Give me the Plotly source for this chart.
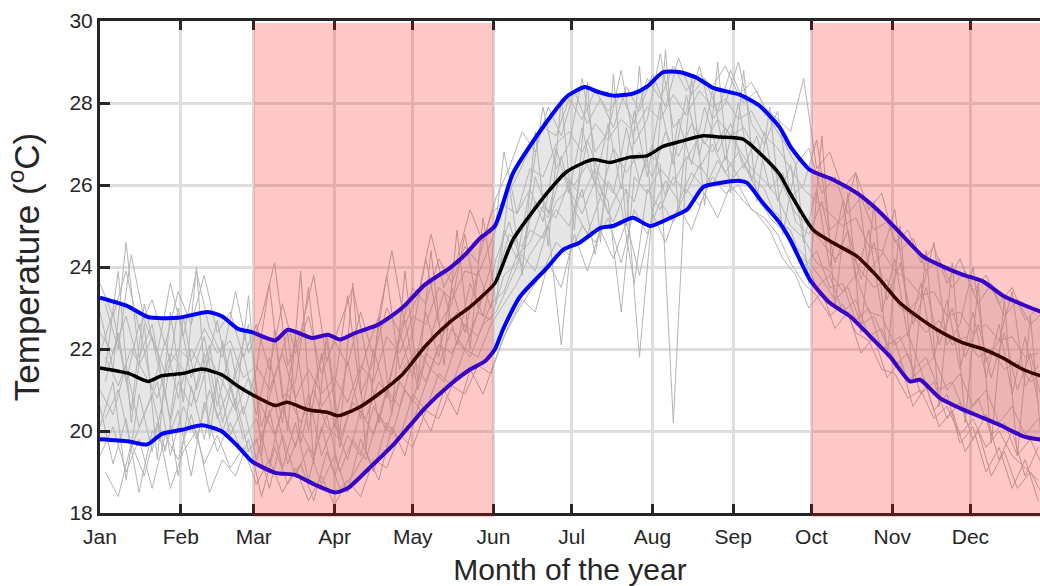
import plotly.graph_objects as go

# ---------------- data ----------------
month_labels = ["Jan", "Feb", "Mar", "Apr", "May", "Jun", "Jul", "Aug", "Sep", "Oct", "Nov", "Dec"]
month_start_days = [1, 32, 60, 91, 121, 152, 182, 213, 244, 274, 305, 335]
y_ticks = [18, 20, 22, 24, 26, 28, 30]

# shaded seasons (day of year)
season1 = [60, 152]
season2 = [274, 366]

# mean curve
mean_days = [1, 11.7, 19.4, 24.8, 32.5, 40.1, 47.8, 54, 59.3, 68.2, 72.8, 80.8, 88.5, 92.3, 100,
             107.7, 116.9, 125.7, 135.3, 143, 146.8, 152.5, 159.5, 172.5, 180.2, 190.2, 196.7, 204.4,
             210.9, 217, 223.6, 232.4, 238.9, 247.7, 255.4, 261.9, 265.8, 274.6, 282.3, 291.5, 299.2,
             308, 314.5, 322.2, 332.2, 339.8, 347.5, 355.2, 361.7, 365]
mean_vals = [21.54, 21.41, 21.21, 21.35, 21.40, 21.51, 21.37, 21.09, 20.89, 20.62, 20.70, 20.52, 20.45,
             20.37, 20.56, 20.89, 21.37, 22.06, 22.66, 23.03, 23.24, 23.60, 24.67, 25.80, 26.33, 26.62,
             26.55, 26.68, 26.71, 26.94, 27.06, 27.20, 27.17, 27.12, 26.70, 26.25, 25.80, 24.91, 24.59,
             24.26, 23.77, 23.12, 22.80, 22.47, 22.15, 22.00, 21.78, 21.50, 21.35, 21.30]

# upper envelope
upper_days = [1, 11.7, 19.4, 30.9, 42.4, 47.8, 54, 59.3, 68.2, 73.1, 82.4, 88.5, 93.1, 98.9, 107.7,
              116.9, 125.7, 135.3, 141.1, 146.8, 152.5, 159.5, 172.5, 180.2, 187.1, 191.7, 197.9, 205.5,
              210.9, 217, 223.6, 230.1, 236.2, 246.6, 254.3, 261.9, 265.8, 273.4, 282.3, 291.5, 299.2,
              308, 316.8, 324.5, 332.2, 339.8, 347.5, 355.2, 361.7, 365]
upper_vals = [23.25, 23.04, 22.78, 22.76, 22.90, 22.80, 22.49, 22.41, 22.21, 22.47, 22.27, 22.35, 22.23,
              22.39, 22.59, 23.00, 23.57, 23.98, 24.30, 24.70, 25.00, 26.29, 27.55, 28.16, 28.39, 28.28,
              28.18, 28.23, 28.40, 28.75, 28.75, 28.61, 28.37, 28.20, 27.92, 27.40, 26.95, 26.37, 26.13,
              25.80, 25.40, 24.83, 24.26, 24.01, 23.81, 23.65, 23.30, 23.08, 22.92, 22.85]

# lower envelope
lower_days = [1, 11.7, 19, 24.8, 32.5, 40.1, 47.8, 54, 59.3, 68.2, 75.8, 83.5, 91.2, 96.2, 103.8,
              114.2, 125.7, 135.3, 143, 148.7, 152.6, 155.6, 162.2, 172.5, 178.7, 185.2, 192.9, 197.9,
              205.5, 212.1, 220.9, 226.3, 232.4, 238.9, 246.6, 249.3, 255.4, 261.9, 265.8, 273.4, 281.1,
              288.8, 296.5, 304.1, 311.8, 315.7, 323.3, 332.2, 339.8, 347.5, 355.2, 361.7, 365]
lower_vals = [19.80, 19.75, 19.67, 19.93, 20.03, 20.14, 19.99, 19.62, 19.26, 18.98, 18.93, 18.69, 18.50,
              18.61, 19.06, 19.71, 20.56, 21.13, 21.50, 21.70, 22.00, 22.47, 23.28, 23.98, 24.42, 24.60,
              24.95, 25.00, 25.20, 25.00, 25.23, 25.40, 25.95, 26.05, 26.10, 26.05, 25.56, 25.07, 24.67,
              23.69, 23.12, 22.80, 22.31, 21.82, 21.21, 21.25, 20.80, 20.52, 20.32, 20.11, 19.87, 19.79,
              19.75]

# individual years (sampled every 5 days, two interleaved sampling grids)
year_days = list(range(1, 366, 5))
year_days_b = list(range(3, 366, 5))
year_a = [23.6, 22.8, 23.9, 22.5, 23.2, 22.1, 23.4, 22.6, 23.8, 22.4,
          22.9, 21.8, 22.6, 21.5, 23.1, 21.9, 22.8, 21.4, 22.2, 21.6,
          22.9, 21.8, 23.0, 22.4, 23.5, 23.1, 24.2, 23.6, 24.5, 24.1,
          25.3, 25.6, 26.2, 26.9, 27.4, 27.2, 28.1, 27.6, 28.3, 27.8,
          28.2, 27.5, 28.6, 28.1, 28.9, 28.3, 28.7, 28.4, 28.9, 28.2,
          28.5, 27.9, 27.6, 27.3, 28.6, 26.4, 26.8, 25.9, 26.3, 25.4,
          25.8, 24.6, 24.9, 24.1, 24.5, 23.6, 24.2, 23.4, 23.8, 23.1,
          23.5, 22.7, 23.0]
year_b = [19.4, 20.1, 19.0, 19.8, 18.6, 19.9, 19.3, 20.4, 19.2, 19.9,
          19.1, 19.6, 18.7, 19.3, 18.5, 19.1, 18.3, 18.9, 18.2, 18.8,
          18.4, 19.3, 19.1, 19.9, 19.6, 20.5, 20.3, 21.1, 20.9, 21.6,
          21.4, 22.3, 22.9, 23.4, 23.9, 24.6, 24.3, 25.0, 24.6, 25.2,
          24.1, 25.4, 24.8, 25.6, 25.1, 25.9, 25.5, 26.2, 25.8, 26.0,
          25.4, 25.2, 24.8, 24.1, 23.6, 23.3, 22.8, 23.1, 22.4, 22.2,
          21.5, 21.4, 20.8, 21.0, 20.3, 20.6, 19.9, 20.3, 19.6, 20.0,
          19.4, 19.1, 18.8]
year_c = [21.9, 22.9, 21.2, 22.6, 21.0, 22.2, 20.8, 22.0, 21.4, 22.7,
          21.0, 21.9, 20.4, 21.8, 20.2, 22.3, 20.0, 21.9, 20.1, 21.7,
          20.3, 22.0, 20.8, 22.4, 21.3, 22.9, 21.8, 23.5, 22.4, 23.9,
          23.0, 24.9, 24.2, 25.9, 25.1, 26.9, 25.8, 27.4, 26.0, 27.5,
          25.9, 27.8, 26.2, 28.0, 26.5, 28.2, 26.7, 28.3, 26.6, 28.0,
          26.1, 27.3, 25.6, 26.5, 24.6, 25.9, 24.0, 25.6, 23.7, 24.9,
          22.9, 24.2, 22.3, 23.6, 21.8, 23.2, 21.5, 22.9, 21.3, 22.6,
          20.9, 22.3, 20.7]
year_d = [21.0, 20.4, 21.6, 20.1, 20.9, 19.5, 21.2, 20.6, 21.9, 20.3,
          21.1, 19.8, 20.3, 19.2, 20.6, 19.6, 20.9, 19.4, 20.2, 19.3,
          20.5, 19.9, 21.0, 20.6, 21.8, 21.2, 22.1, 21.9, 22.6, 22.3,
          23.1, 23.4, 24.3, 24.6, 25.5, 25.2, 26.1, 25.7, 26.4, 25.3,
          26.0, 25.6, 26.8, 26.5, 20.2, 26.6, 27.2, 26.8, 27.4, 26.9,
          26.4, 26.1, 25.7, 25.0, 24.7, 24.1, 23.9, 23.4, 23.8, 22.9,
          22.8, 22.1, 22.4, 21.5, 21.8, 21.0, 21.4, 20.6, 21.0, 20.2,
          20.6, 19.9, 20.3]
year_e = [22.4, 21.9, 22.8, 21.6, 22.3, 21.4, 22.0, 21.7, 22.5, 21.9,
          22.2, 21.3, 21.6, 21.0, 21.9, 20.8, 21.5, 20.9, 21.3, 20.7,
          21.6, 21.2, 22.3, 21.9, 22.8, 22.6, 23.5, 23.2, 23.9, 23.8,
          24.6, 25.5, 25.3, 26.4, 26.2, 27.0, 27.3, 26.8, 27.5, 27.1,
          27.6, 27.3, 27.9, 27.6, 28.2, 27.7, 28.3, 27.9, 28.1, 27.6,
          27.8, 27.2, 26.9, 26.4, 25.9, 25.6, 25.3, 25.0, 25.2, 24.5,
          24.4, 23.9, 23.7, 23.3, 23.4, 22.8, 22.9, 22.4, 22.6, 22.2,
          22.3, 21.8, 21.9]
year_f = [20.6, 19.2, 20.3, 18.5, 20.0, 19.6, 20.5, 18.9, 20.7, 19.5,
          20.2, 19.4, 19.8, 18.6, 19.9, 18.9, 19.6, 18.7, 19.4, 18.5,
          19.8, 19.0, 20.2, 19.8, 20.9, 20.5, 21.4, 21.1, 22.0, 21.8,
          22.6, 23.1, 23.6, 24.3, 24.8, 25.4, 25.0, 25.9, 24.3, 26.1,
          25.5, 23.6, 25.9, 25.4, 26.2, 25.8, 26.5, 26.0, 26.7, 26.2,
          25.9, 25.4, 25.3, 24.6, 24.3, 23.5, 23.8, 22.9, 23.2, 22.3,
          22.5, 21.6, 21.9, 20.9, 21.2, 20.3, 20.7, 19.8, 20.4, 19.3,
          20.0, 18.9, 19.6]
year_g = [22.9, 21.5, 24.6, 21.8, 22.6, 20.9, 23.0, 21.3, 22.3, 20.6,
          22.0, 20.4, 21.5, 23.6, 20.8, 21.2, 23.5, 20.6, 21.1, 23.3,
          20.9, 21.7, 23.8, 21.5, 22.4, 24.2, 22.6, 23.1, 24.8, 23.0,
          24.0, 26.8, 25.3, 25.9, 27.9, 26.4, 27.0, 28.6, 26.8, 27.3,
          28.8, 27.0, 27.6, 29.2, 27.4, 27.8, 28.9, 27.6, 28.0, 29.0,
          27.5, 27.0, 27.8, 25.7, 26.0, 27.1, 24.9, 25.2, 26.3, 23.9,
          24.3, 25.4, 22.9, 23.3, 24.6, 22.1, 22.6, 24.0, 21.7, 22.2,
          23.4, 21.1, 21.6]
year_h = [20.1, 21.2, 18.8, 20.9, 19.5, 21.0, 18.9, 21.1, 19.8, 21.3,
          19.9, 20.6, 19.3, 20.5, 19.1, 20.2, 18.8, 20.1, 18.9, 19.9,
          19.4, 20.6, 20.0, 21.2, 20.7, 21.9, 21.6, 22.5, 22.0, 22.9,
          22.7, 23.8, 24.1, 24.9, 24.7, 25.6, 25.9, 25.3, 26.1, 25.6,
          22.9, 26.2, 25.8, 26.4, 26.0, 26.7, 26.4, 27.0, 26.3, 26.8,
          26.2, 25.9, 25.1, 24.9, 24.0, 24.4, 23.5, 23.6, 22.7, 23.0,
          22.0, 22.2, 21.2, 21.5, 20.5, 20.9, 19.7, 20.1, 19.0, 19.6,
          18.6, 19.3, 18.3]
year_i = [21.2, 22.4, 20.5, 23.1, 21.7, 20.3, 22.8, 21.0, 22.1, 20.2,
          21.5, 22.6, 20.1, 21.3, 22.4, 19.7, 21.1, 22.2, 19.6, 20.8,
          21.9, 20.2, 21.5, 22.7, 21.0, 22.3, 23.4, 22.1, 23.6, 22.8,
          24.2, 25.1, 24.0, 26.2, 25.3, 26.7, 25.4, 27.1, 26.2, 25.8,
          27.4, 26.1, 27.0, 25.7, 27.6, 26.5, 27.9, 26.8, 27.5, 26.4,
          27.2, 25.9, 26.3, 25.1, 24.8, 25.6, 24.1, 24.9, 23.7, 24.6,
          23.2, 24.1, 22.6, 23.5, 22.1, 23.0, 21.8, 22.6, 21.3, 22.4,
          21.0, 21.9, 20.6]
year_j = [23.1, 22.0, 24.3, 22.7, 21.9, 23.6, 22.3, 23.9, 22.5, 21.8,
          23.4, 21.9, 22.8, 24.1, 21.6, 22.4, 23.8, 21.7, 22.6, 23.5,
          21.9, 22.8, 24.4, 22.6, 23.3, 24.8, 23.5, 24.2, 25.4, 24.6,
          25.7, 26.4, 27.3, 26.8, 27.9, 27.2, 28.3, 27.5, 28.1, 27.4,
          28.4, 27.8, 28.7, 27.9, 29.1, 28.2, 28.6, 27.8, 28.8, 28.0,
          28.3, 27.6, 27.1, 26.5, 26.9, 25.8, 26.2, 25.3, 25.7, 24.9,
          25.1, 24.4, 24.7, 23.9, 24.2, 23.5, 23.9, 23.1, 23.6, 22.8,
          23.2, 22.6, 22.9]
year_k = [19.0, 18.4, 19.7, 18.9, 20.2, 18.6, 19.5, 20.0, 18.5, 19.3,
          18.9, 19.8, 18.4, 19.6, 18.7, 19.2, 18.3, 19.5, 18.6, 18.9,
          19.5, 18.8, 20.1, 19.4, 20.6, 20.0, 21.0, 20.4, 21.5, 20.9,
          21.8, 22.6, 23.2, 22.9, 24.1, 23.5, 24.8, 23.9, 24.9, 24.2,
          25.1, 23.8, 25.3, 24.6, 25.5, 24.9, 25.8, 25.2, 26.0, 25.6,
          25.3, 24.9, 24.2, 23.8, 23.0, 23.4, 22.5, 22.9, 21.9, 22.3,
          21.3, 21.7, 20.6, 21.1, 20.1, 20.5, 19.5, 20.0, 18.9, 19.5,
          18.6, 19.0, 18.4]
year_l = [21.8, 21.1, 22.0, 21.4, 20.8, 21.9, 21.5, 20.7, 21.8, 21.2,
          20.5, 21.3, 20.6, 19.9, 20.9, 20.2, 21.0, 20.1, 19.8, 20.7,
          20.3, 21.2, 20.7, 21.6, 22.0, 21.5, 22.4, 22.9, 22.3, 23.3,
          23.7, 24.8, 24.5, 25.6, 25.2, 26.3, 26.0, 26.5, 25.7, 26.9,
          26.3, 26.8, 26.2, 27.3, 26.7, 27.5, 27.0, 27.6, 27.2, 27.4,
          26.8, 26.5, 26.0, 25.3, 25.0, 24.6, 24.2, 24.5, 23.9, 23.5,
          23.7, 23.0, 22.8, 22.4, 22.7, 22.1, 22.3, 21.8, 22.0, 21.5,
          21.7, 21.2, 21.4]
year_m = [20.3, 21.0, 19.6, 20.4, 21.2, 19.4, 20.6, 19.8, 21.0, 20.0,
          20.8, 19.5, 19.9, 20.7, 19.2, 20.0, 19.4, 20.4, 19.0, 19.8,
          19.3, 20.4, 19.9, 21.0, 20.6, 21.5, 21.2, 22.2, 21.8, 22.6,
          22.9, 23.6, 24.3, 23.9, 25.0, 22.1, 25.4, 24.8, 25.7, 25.1,
          25.9, 21.8, 25.4, 26.1, 25.6, 26.3, 25.9, 26.6, 26.1, 26.5,
          25.9, 25.2, 24.9, 24.3, 24.1, 23.7, 23.2, 23.5, 22.6, 22.8,
          22.1, 22.3, 21.5, 21.8, 21.0, 21.2, 20.4, 20.8, 19.9, 20.2,
          19.4, 19.8, 19.1]
year_n = [21.5, 23.9, 20.2, 22.6, 19.3, 22.9, 20.7, 24.0, 19.8, 22.2,
          20.6, 23.3, 19.4, 22.5, 20.0, 23.9, 19.2, 22.4, 19.9, 23.6,
          19.5, 22.8, 20.4, 23.9, 21.2, 24.4, 21.6, 24.9, 22.0, 25.2,
          23.1, 26.0, 23.8, 27.3, 24.5, 28.1, 24.9, 28.5, 24.6, 28.7,
          25.0, 28.9, 25.2, 29.3, 25.3, 28.6, 25.5, 29.0, 25.8, 28.8,
          25.6, 27.9, 24.8, 26.5, 23.6, 27.2, 23.0, 25.8, 22.4, 25.6,
          21.8, 25.0, 21.2, 24.4, 20.6, 24.1, 20.2, 23.6, 19.7, 23.2,
          19.4, 22.8, 19.2]
years_grid1 = [year_a, year_b, year_c, year_d, year_e, year_f, year_g, year_h]
years_grid2 = [year_i, year_j, year_k, year_l, year_m, year_n]

# ---------------- figure ----------------
FONT = "Liberation Sans, Arial, Helvetica, sans-serif"
AX = "#262626"

fig = go.Figure()

# envelope band
fig.add_trace(go.Scatter(
    x=upper_days + lower_days[::-1],
    y=upper_vals + lower_vals[::-1],
    fill="toself", fillcolor="rgba(200,200,200,0.45)",
    line=dict(width=0), mode="lines", hoverinfo="skip", showlegend=False))

for days, group in ((year_days, years_grid1), (year_days_b, years_grid2)):
    for yv in group:
        fig.add_trace(go.Scatter(x=days, y=yv, mode="lines",
                                 line=dict(color="rgb(180,180,180)", width=1),
                                 showlegend=False, hoverinfo="skip"))

fig.add_trace(go.Scatter(x=upper_days, y=upper_vals, mode="lines",
                         line=dict(color="rgb(0,0,255)", width=4, shape="spline", smoothing=0.6),
                         showlegend=False))
fig.add_trace(go.Scatter(x=lower_days, y=lower_vals, mode="lines",
                         line=dict(color="rgb(0,0,255)", width=4, shape="spline", smoothing=0.6),
                         showlegend=False))
fig.add_trace(go.Scatter(x=mean_days, y=mean_vals, mode="lines",
                         line=dict(color="black", width=3.5, shape="spline", smoothing=0.6),
                         showlegend=False))

for s in (season1, season2):
    fig.add_shape(type="rect", xref="x", yref="paper", x0=s[0], x1=s[1],
                  y0=-0.008, y1=0.996, fillcolor="rgba(255,0,0,0.21)",
                  line=dict(width=0), layer="above")

fig.update_layout(
    width=1040, height=586,
    margin=dict(l=100, r=0, t=21, b=73),
    paper_bgcolor="white", plot_bgcolor="white",
    font=dict(family=FONT, color="#262626", size=21),
    showlegend=False,
)
fig.update_xaxes(
    range=[1, 361.7], tickmode="array", tickvals=month_start_days, ticktext=month_labels,
    ticks="inside", ticklen=9, tickwidth=3, tickcolor=AX, ticklabelstandoff=3,
    showline=True, linewidth=3, linecolor=AX, mirror="ticks",
    showgrid=True, gridcolor="rgb(222,222,222)", gridwidth=3,
    zeroline=False, automargin=False, tickfont=dict(size=21, color="#262626"),
    title=dict(text="Month of the year", font=dict(size=30, color="#262626"), standoff=21),
)
fig.update_yaxes(
    range=[18, 30], tickmode="array", tickvals=y_ticks,
    ticks="inside", ticklen=10, tickwidth=3, tickcolor=AX,
    showline=True, linewidth=3, linecolor=AX, mirror=False,
    showgrid=True, gridcolor="rgb(222,222,222)", gridwidth=3,
    zeroline=False, automargin=False, tickfont=dict(size=21, color="#262626"),
    title=dict(text="Temperature (<sup>o</sup>C)", font=dict(size=35, color="#262626"), standoff=20),
)

# remove the default page margin so the figure sits at the window's top-left corner
fig.write_html("out.html", config={"displayModeBar": False},
               post_script="document.body.style.margin='0';document.body.style.padding='0';")
